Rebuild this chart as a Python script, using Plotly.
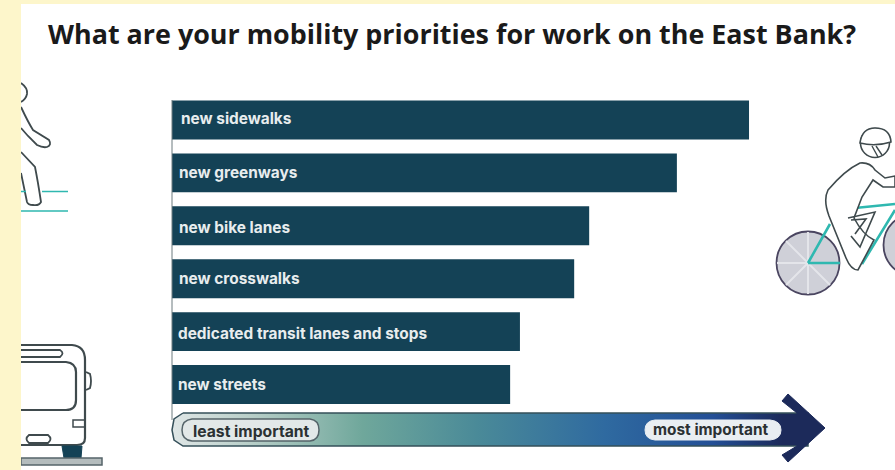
import plotly.graph_objects as go

# Survey results
categories = ["new sidewalks", "new greenways", "new bike lanes",
              "new crosswalks", "dedicated transit lanes and stops", "new streets"]
scores = [100.0, 87.5, 72.3, 69.7, 60.3, 58.6]
label_left = [179, 177, 177, 177, 176, 176]
label_mid = [118, 172, 227, 278, 333, 384]

W, H = 895, 470
INK = "#3f4a4d"
TEAL = "#2fb8b0"
NAVY = "#144256"
PAGE_EDGE = "#fdf6cb"

fig = go.Figure()

fig.add_trace(go.Bar(
    y=categories, x=scores, orientation="h",
    marker=dict(color=NAVY, line=dict(width=0)),
    width=0.735, showlegend=False, hoverinfo="y+x",
))

# Pixel-space axes for the illustration layer
overlay = dict(range=[0, W], domain=[0, 1], visible=False, fixedrange=True)
fig.update_layout(
    width=W, height=H, margin=dict(l=0, r=0, t=0, b=0),
    paper_bgcolor="white", plot_bgcolor="rgba(0,0,0,0)",
    xaxis=dict(domain=[172 / W, 1], range=[0, 125.3], visible=False),
    yaxis=dict(domain=[(H - 411) / H, (H - 93.5) / H], autorange="reversed",
               visible=False, categoryorder="array", categoryarray=categories),
    xaxis2=dict(overlay, anchor="y2"),
    yaxis2=dict(overlay, range=[H, 0], anchor="x2"),
    showlegend=False,
)

# Gradient importance band with arrow shaft
fig.add_trace(go.Scatter(
    x=[183, 808, 808, 183, 174, 172, 174, 183],
    y=[413, 413, 446, 446, 440, 430, 419, 413],
    xaxis="x2", yaxis="y2", mode="lines", fill="toself",
    line=dict(color="#35505a", width=1.5),
    fillgradient=dict(type="horizontal", colorscale=[
        [0, "#dfe6e6"], [0.12, "#b9cfc9"], [0.3, "#6fa79b"], [0.48, "#4a8a98"],
        [0.68, "#2f6aa0"], [0.85, "#234f96"], [0.96, "#1c2a5a"], [1, "#1c2a5a"]]),
    hoverinfo="skip", showlegend=False,
))

def path(d, color=INK, width=2, fill=None):
    fig.add_shape(type="path", path=d, xref="x2", yref="y2", layer="above",
                  line=dict(color=color, width=width),
                  fillcolor=fill if fill else "rgba(0,0,0,0)")

def circle(cx, cy, r, color=INK, width=2, fill="rgba(0,0,0,0)"):
    fig.add_shape(type="circle", x0=cx - r, x1=cx + r, y0=cy - r, y1=cy + r,
                  xref="x2", yref="y2", layer="above",
                  line=dict(color=color, width=width), fillcolor=fill)

# Baseline rule along the left of the bars
path("M 172 100 L 172 420", color="#6d7a7e", width=1)

# Arrow head
path("M 788 394 L 825 428 L 788 462 L 782 455 L 797 446 L 797 413 L 782 401 Z",
     color="#1c2a5a", width=1, fill="#1c2a5a")

# Pills on the band
path("M 192 419 L 310 419 Q 319 420 319 430 Q 319 440 310 441 L 192 441 Q 182 440 182 430 Q 182 420 192 419 Z",
     color="#55646a", width=1.5, fill="#e2e8e8")
path("M 655 420 L 770 420 Q 781 421 781 430 Q 781 439 770 440 L 655 440 Q 645 439 645 430 Q 645 421 655 420 Z",
     color="#e9eef2", width=1, fill="#e9eef2")

# Pedestrian
path("M 21 83 Q 28 88 27 94 Q 26 99 21 102", width=1.8)
path("M 21 107 Q 28 122 33 130 L 49 140 Q 52 145 47 147 Q 43 148 37 145 L 28 136 L 21 128", width=1.8)
path("M 21 152 L 35 167 Q 38 182 41 202 Q 39 206 33 205 Q 28 205 27 202 L 21 173", width=1.8)
path("M 21 191.5 L 26 191.5 M 42 191.5 L 68 191.5 M 21 211 L 68 211", color=TEAL, width=1.6)

# Bus
path("M 21 345 L 72 345 Q 85 346 85 360 L 85 438 Q 85 445 77 445 L 21 445", width=2.2)
path("M 21 350 L 60 350 Q 65 353 60 357 L 21 357", width=1.8)
path("M 21 362 L 66 362 Q 76 363 76 372 L 76 400 Q 76 410 66 410 L 21 410", width=2.2)
path("M 86 372 L 90 374 Q 92 381 90 388 L 86 390", width=1.8)
path("M 85 420 L 73 420 L 73 427 L 85 427", width=1.5)
path("M 29 435 L 48 435 Q 53 439 48 443 L 29 443 Q 24 439 29 435 Z", width=1.8)
path("M 62 446 L 82 446 L 81 458 L 64 458 Z", color=NAVY, width=1, fill=NAVY)
path("M 21 458 L 102 458 L 102 465 L 21 465 Z", color="#55646a", width=1.5, fill="#b4bcbd")

# Cyclist: wheels and spokes
circle(808, 263, 31.5, color="#4a4560", width=1.8, fill="#cfd0d8")
circle(915, 245, 31.5, color="#4a4560", width=1.8, fill="#cfd0d8")
path("M 808 263 L 808 232 M 808 263 L 786 241 M 808 263 L 777 263 M 808 263 L 786 285 "
     "M 808 263 L 808 294 M 808 263 L 830 285", color="#e4e5ea", width=2)
# Cyclist: frame
path("M 808 263 L 840 263 M 808 263 L 830 224 M 845 209 L 895 204 M 862 264 L 895 210",
     color=TEAL, width=2.6)
# Cyclist: rider
circle(875, 143, 14.5, width=1.6, fill="white")
path("M 860 143 Q 862 128 875 128 Q 890 128 891 142 Q 875 147 860 143 Z", width=1.6, fill="white")
path("M 872 146 L 878 157 M 876 146 L 882 155", width=1.4)
path("M 860 163 Q 870 162 875 170 L 885 178 L 895 176 L 895 187 L 883 187 L 873 180 L 862 197 L 854 218 "
     "Q 863 235 874 240 L 858 270 Q 851 270 846 258 L 829 216 Q 823 200 828 190 Q 845 170 860 163 Z",
     width=1.6, fill="white")
path("M 848 218 L 875 212 L 860 247 L 851 236 M 851 220 L 866 219 L 855 234", width=1.6)

# Yellow page edge over the illustrations
path("M 0 0 L 21 0 L 21 470 L 0 470 Z", color=PAGE_EDGE, width=0, fill=PAGE_EDGE)
path("M 0 0 L 895 0 L 895 4 L 0 4 Z", color=PAGE_EDGE, width=0, fill=PAGE_EDGE)

def label(x, y, text, size, color, weight="bold", family="Inter, sans-serif"):
    fig.add_annotation(x=x, y=y, xref="x2", yref="y2", text=text, showarrow=False,
                       xanchor="left", yanchor="middle",
                       font=dict(family=family, size=size, color=color, weight=weight))

label(46, 33, "What are your mobility priorities for work on the East Bank?", 26.9,
      "#1a1a1a", family="'Open Sans', sans-serif")
for name, x, y in zip(categories, label_left, label_mid):
    label(x, y, name, 15.4, "#e8edee")
label(191, 431, "least important", 15.7, "#2b3133")
label(651, 429, "most important", 15.4, "#2b3133")

fig.write_html("out.html")
